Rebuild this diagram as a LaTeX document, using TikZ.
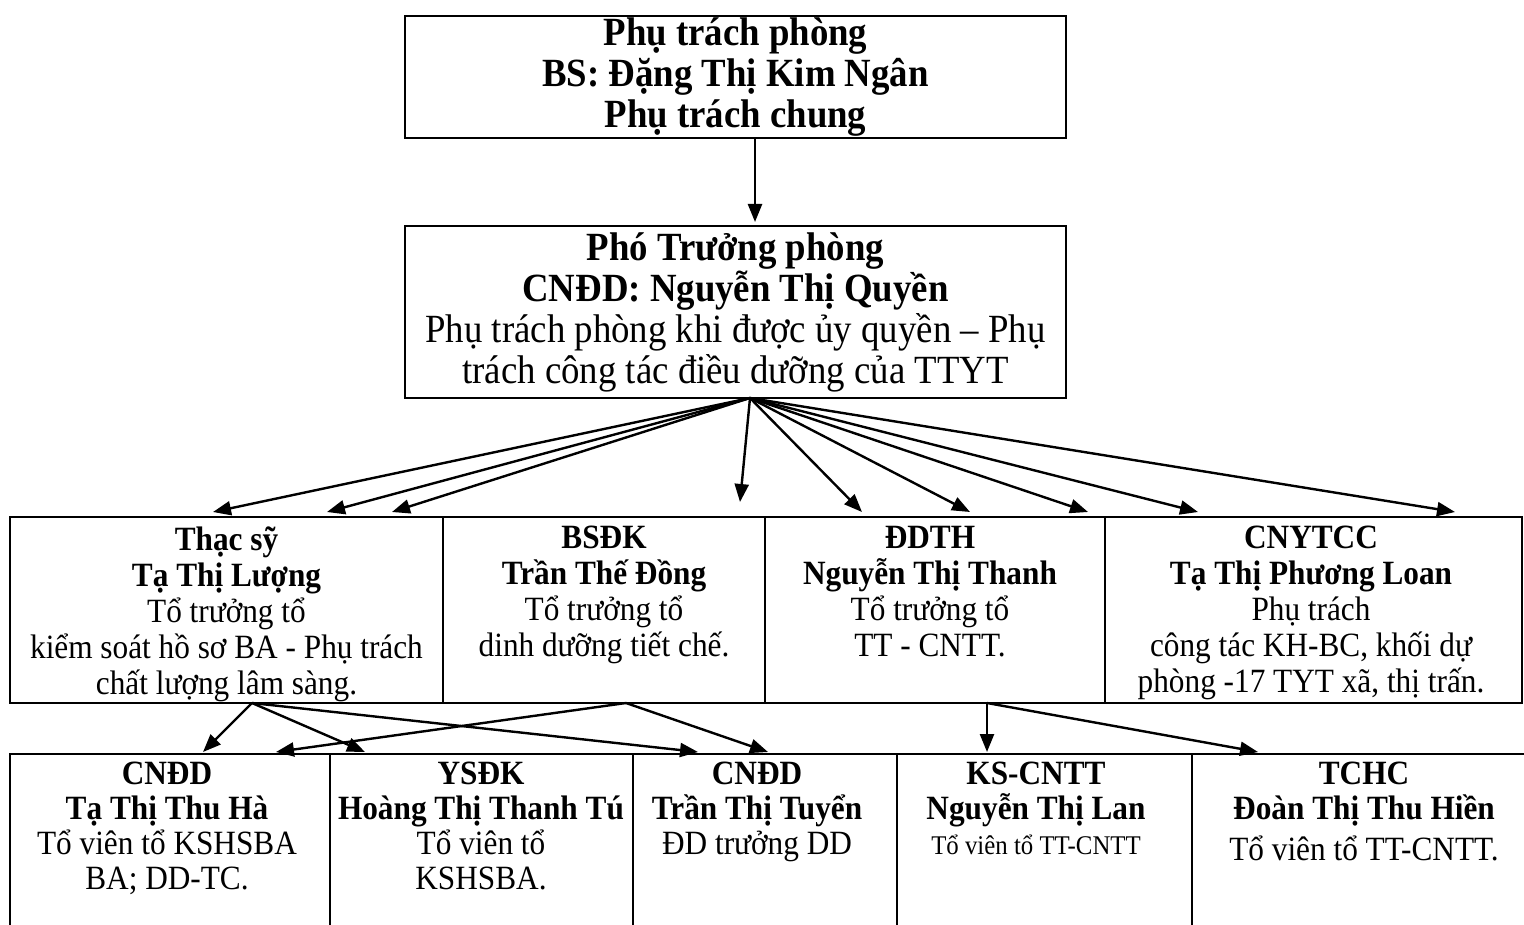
\documentclass[tikz,border=0pt]{standalone}
\usepackage{fontspec}
\setmainfont{Liberation Serif}[FakeStretch=0.92]
\usetikzlibrary{arrows.meta,positioning,calc}

\tikzset{
  box/.style={draw, line width=1.4pt, inner sep=0pt},
  link/.style={line width=1.2pt, -{Triangle[length=9pt,width=7pt]}},
  toptxt/.style={align=center, font=\fontsize{20}{20.5}\selectfont},
  midtxt/.style={align=center, anchor=north, inner sep=0pt, font=\fontsize{17}{18}\selectfont,
    execute at begin node=\rule{0pt}{14pt}},
  lowtxt/.style={align=center, anchor=north, inner sep=0pt, font=\fontsize{17}{17.5}\selectfont,
    execute at begin node=\rule{0pt}{14pt}},
}

\begin{document}
\begin{tikzpicture}[x=0.5pt, y=-0.5pt]
    \useasboundingbox (0,0) rectangle (1524,925);

    % Leadership
    \node[box, toptxt, minimum width=330.5pt, minimum height=61pt] (head) at (735.5,77)
        {\textbf{Phụ trách phòng}\\ \textbf{BS: Đặng Thị Kim Ngân}\\ \textbf{Phụ trách chung}};
    \node[box, toptxt, minimum width=330.5pt, minimum height=86pt] (deputy) at (735.5,312)
        {\textbf{Phó Trưởng phòng}\\ \textbf{CNĐD: Nguyễn Thị Quyền}\\ Phụ trách phòng khi được ủy quyền – Phụ\\ trách công tác điều dưỡng của TTYT};

    % Team leaders
    \node[box, minimum width=216.5pt, minimum height=93pt] (luong) at (226.5,610) {};
    \node[box, minimum width=161pt, minimum height=93pt] (dong) at (604,610) {};
    \node[box, minimum width=170pt, minimum height=93pt] (thanh) at (935,610) {};
    \node[box, minimum width=208.5pt, minimum height=93pt] (loan) at (1313.5,610) {};
    \node[midtxt] (luongt) at (226.5,526) {\textbf{Thạc sỹ}\\ \textbf{Tạ Thị Lượng}\\ Tổ trưởng tổ\\ kiểm soát hồ sơ BA - Phụ trách\\ chất lượng lâm sàng.};
    \node[midtxt] (dongt) at (604,526) {\textbf{BSĐK}\\ \textbf{Trần Thế Đồng}\\ Tổ trưởng tổ\\ dinh dưỡng tiết chế.};
    \node[midtxt] (thanht) at (930,526) {\textbf{ĐDTH}\\ \textbf{Nguyễn Thị Thanh}\\ Tổ trưởng tổ\\ TT - CNTT.};
    \node[midtxt] (loant) at (1311,526) {\textbf{CNYTCC}\\ \textbf{Tạ Thị Phương Loan}\\ Phụ trách\\ công tác KH-BC, khối dự\\ phòng -17 TYT xã, thị trấn.};

    % Team members (boxes run past the bottom edge)
    \node[box, minimum width=160pt, minimum height=110pt] (ha) at (170,864) {};
    \node[box, minimum width=151.5pt, minimum height=110pt] (tu) at (481.5,864) {};
    \node[box, minimum width=132pt, minimum height=110pt] (tuyen) at (765,864) {};
    \node[box, minimum width=147.5pt, minimum height=110pt] (lan) at (1044.5,864) {};
    \node[box, minimum width=180pt, minimum height=110pt] (hien) at (1372,864) {};
    \node[lowtxt] (hat) at (167,762) {\textbf{CNĐD}\\ \textbf{Tạ Thị Thu Hà}\\ Tổ viên tổ KSHSBA\\ BA; DD-TC.};
    \node[lowtxt] (tut) at (481,762) {\textbf{YSĐK}\\ \textbf{Hoàng Thị Thanh Tú}\\ Tổ viên tổ\\ KSHSBA.};
    \node[lowtxt] (tuyent) at (757,762) {\textbf{CNĐD}\\ \textbf{Trần Thị Tuyển}\\ ĐD trưởng DD};
    \node[lowtxt] (lant) at (1036,762) {\textbf{KS-CNTT}\\ \textbf{Nguyễn Thị Lan}\\ {\fontsize{13.5}{14}\selectfont Tổ viên tổ TT-CNTT}};
    \node[lowtxt] (hient) at (1364,762) {\textbf{TCHC}\\ \textbf{Đoàn Thị Thu Hiền}\\[3pt] Tổ viên tổ TT-CNTT.};

    % Arrow ends
    \coordinate (h1) at (755,138);
    \coordinate (h2) at (755,222);
    \coordinate (fan) at (750,398);
    \foreach \tx [count=\i] in {213,327,392,862,970,1088,1198,1455}
        \coordinate (f\i) at (\tx,512);
    \coordinate (fv) at (740,502);
    \coordinate (s1) at (252,703);
    \coordinate (s2) at (626,703);
    \coordinate (s3) at (987,703);
    \coordinate (e1) at (203,752);
    \coordinate (e2) at (276,752);
    \coordinate (e3) at (365,752);
    \coordinate (e4) at (698,752);
    \coordinate (e5) at (768,752);
    \coordinate (e6) at (987,752);
    \coordinate (e7) at (1258,752);

    % Arrows
    \draw[link] (h1) -- (h2);
    \foreach \i in {1,...,8}
        \draw[link] (fan) -- (f\i);
    \draw[link] (fan) -- (fv);
    \draw[link] (s1) -- (e1);
    \draw[link] (s1) -- (e3);
    \draw[link] (s1) -- (e4);
    \draw[link] (s2) -- (e2);
    \draw[link] (s2) -- (e5);
    \draw[link] (s3) -- (e6);
    \draw[link] (s3) -- (e7);
\end{tikzpicture}
\end{document}
